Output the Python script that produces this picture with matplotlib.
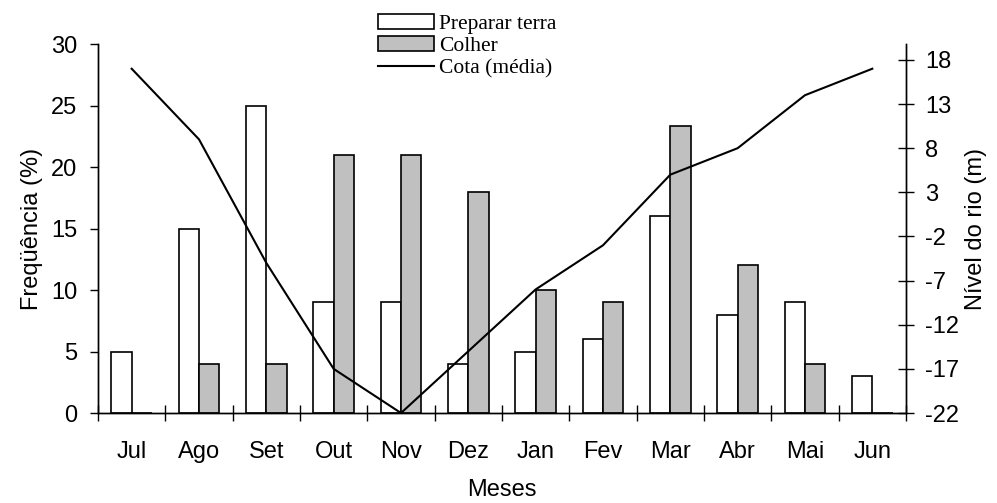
import numpy as np
import matplotlib
matplotlib.use("Agg")
import matplotlib.pyplot as plt
from matplotlib.ticker import FixedLocator

plt.rcParams["axes.unicode_minus"] = False

# -----------------------------
# Data
# -----------------------------
meses = ["Jul", "Ago", "Set", "Out", "Nov", "Dez",
         "Jan", "Fev", "Mar", "Abr", "Mai", "Jun"]
preparar_terra = [5, 15, 25, 9, 9, 4, 5, 6, 16, 8, 9, 3]
colher = [0, 4, 4, 21, 21, 18, 10, 9, 23.3, 12, 4, 0]
cota_media = [17, 9, -5, -17, -22, -15, -8, -3, 5, 8, 14, 17]

freq_ticks = [0, 5, 10, 15, 20, 25, 30]
nivel_ticks = [-22, -17, -12, -7, -2, 3, 8, 13, 18]

sans = ["Liberation Sans", "DejaVu Sans"]
serif = ["Liberation Serif", "DejaVu Serif"]
fs = 17

# -----------------------------
# Figure
# -----------------------------
fig = plt.figure(figsize=(9.97, 5.03), dpi=100)
ax = fig.add_axes([0.0983, 0.1789, 0.8104, 0.7336])
ax2 = ax.twinx()

x = np.arange(len(meses))
w = 0.3

b1 = ax.bar(x - w / 2, preparar_terra, w, color="white",
            edgecolor="black", linewidth=1.2, label="Preparar terra")
b2 = ax.bar(x + w / 2, colher, w, color="#c0c0c0",
            edgecolor="black", linewidth=1.2, label="Colher")
l1, = ax2.plot(x, cota_media, color="black", linewidth=1.5,
               label="Cota (média)")

ax.set_xlim(-0.5, len(meses) - 0.5)
ax.set_ylim(0, 30)
ax2.set_ylim(-22, 19.8)

for a in (ax, ax2):
    a.spines["top"].set_visible(False)
    for s in a.spines.values():
        s.set_linewidth(1.0)

# x ticks: boundaries with marks, centers with labels
ax.xaxis.set_major_locator(FixedLocator(np.arange(-0.5, len(meses), 1.0)))
ax.xaxis.set_major_formatter(plt.NullFormatter())
ax.set_xticks(x, meses, minor=True)
ax.tick_params(axis="x", which="major", direction="inout", length=12, width=1.0)
ax.tick_params(axis="x", which="minor", length=0, pad=20)

ax.set_yticks(freq_ticks)
ax.tick_params(axis="y", direction="out", length=6, width=1.0, pad=9)
ax2.set_yticks(nivel_ticks)
ax2.tick_params(axis="y", direction="inout", length=12, width=1.0, pad=8)

for lab in ax.get_xticklabels(minor=True) + ax.get_yticklabels() + ax2.get_yticklabels():
    lab.set_fontfamily(sans)
    lab.set_fontsize(fs)

ax.set_xlabel("Meses", fontfamily=sans, fontsize=fs, labelpad=12)
ax.set_ylabel("Freqüência (%)", fontfamily=sans, fontsize=fs, labelpad=6)
ax2.set_ylabel("Nível do rio (m)", fontfamily=sans, fontsize=fs, labelpad=4)

fig.legend(handles=[b1, b2, l1], loc="upper left",
           bbox_to_anchor=(378 / 997, 1 - 14 / 503), frameon=False,
           prop={"family": serif, "size": 15.5}, handlelength=2.6,
           handleheight=0.7, handletextpad=0.25, labelspacing=0.1,
           borderpad=0, borderaxespad=0)

fig.savefig("out.png", dpi=100)
